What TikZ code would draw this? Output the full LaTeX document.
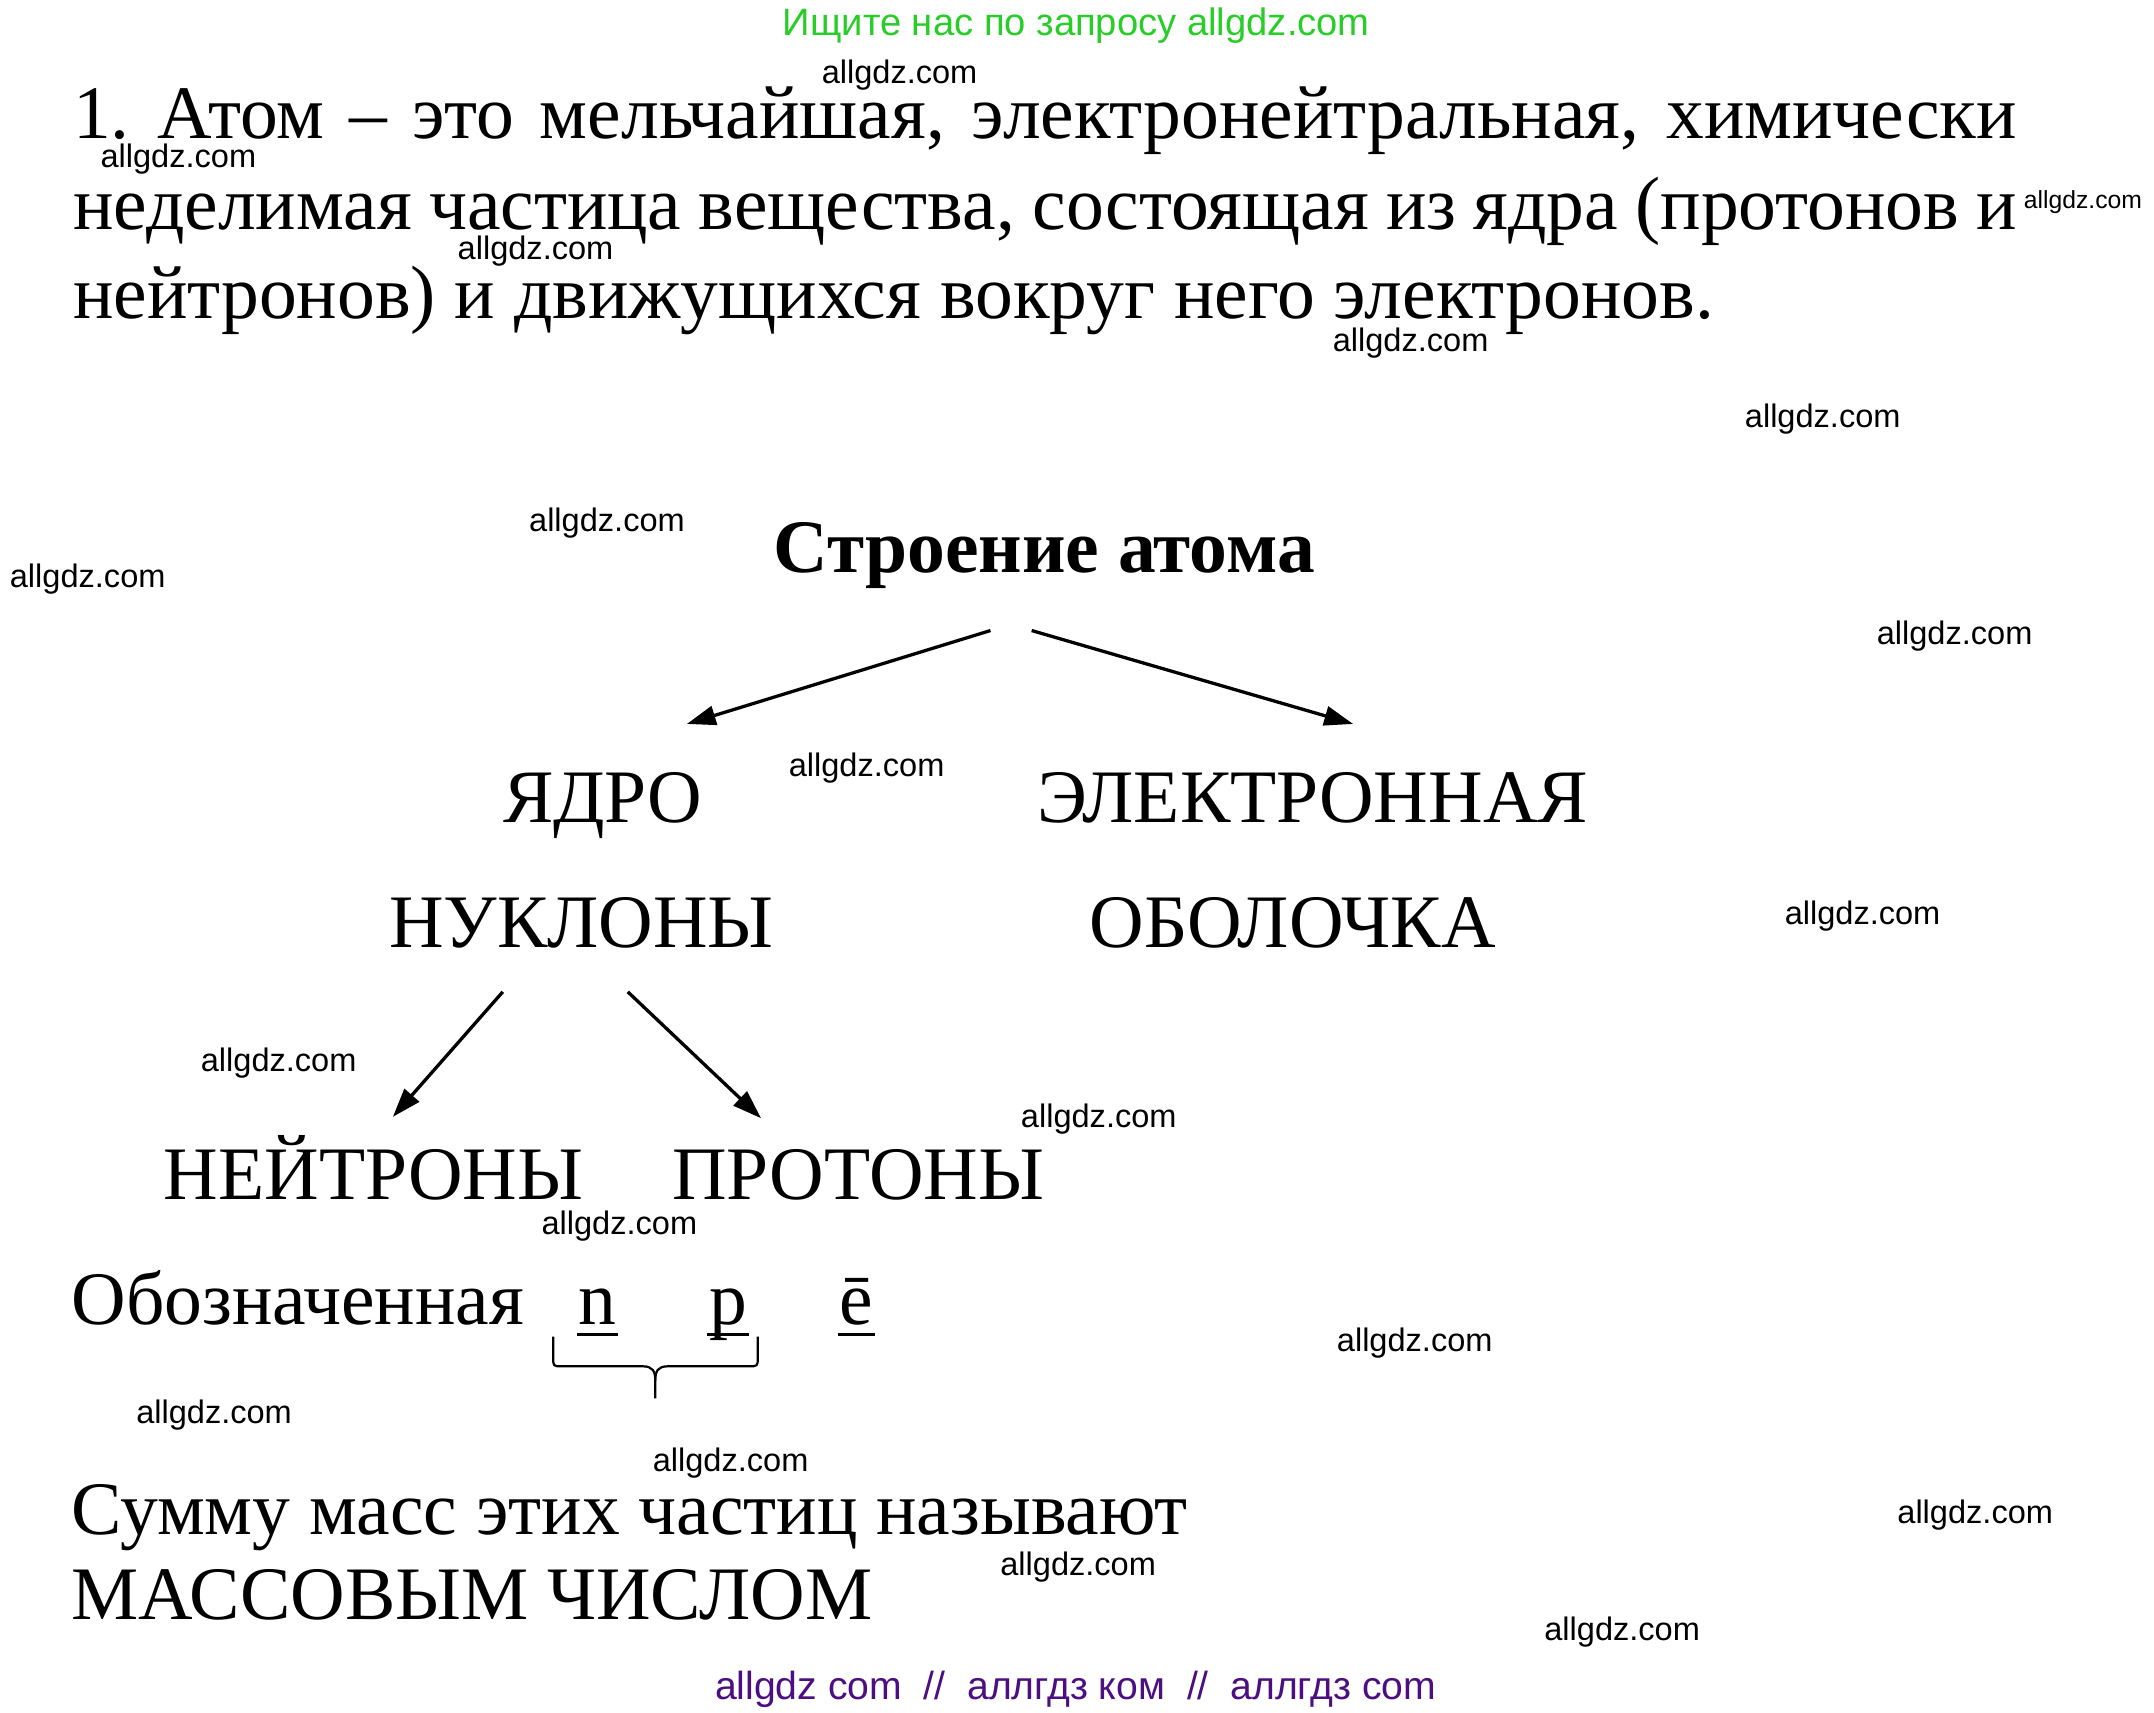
\documentclass[tikz,border=0pt]{standalone}
\usepackage{fontspec}
\setmainfont{Liberation Serif}
\newfontfamily\wmsans{Liberation Sans}
\usetikzlibrary{arrows.meta}
\definecolor{hdrgreen}{RGB}{40,205,40}
\definecolor{ftpurple}{RGB}{75,15,130}
\begin{document}
\begin{tikzpicture}[x=1pt,y=-1pt,
  wm/.style={font=\wmsans\fontsize{23.7}{23.7}\selectfont, anchor=base west, inner sep=0pt},
  wmsmall/.style={font=\wmsans\fontsize{18}{18}\selectfont, anchor=base west, inner sep=0pt},
  body/.style={font=\fontsize{55}{60}\selectfont, anchor=base west, inner sep=0pt},
  term/.style={font=\fontsize{55}{60}\selectfont, anchor=base west, inner sep=0pt},
  heading/.style={font=\bfseries\fontsize{55}{60}\selectfont, anchor=base west, inner sep=0pt},
  arr/.style={line width=2.4pt, -{Triangle[length=21pt,width=14pt]}},
  uline/.style={line width=2.2pt},
  bracepath/.style={line width=1.6pt, line join=round}]
\useasboundingbox[fill=white] (0,0) rectangle (1568,1246.3);

% header and footer
\node[font=\wmsans\fontsize{27.8}{27.8}\selectfont, text=hdrgreen, anchor=base, inner sep=0pt] (hdr) at (783.5,26) {Ищите нас по запросу allgdz.com};
\node[font=\wmsans\fontsize{28.5}{28.5}\selectfont, text=ftpurple, anchor=base, inner sep=0pt] (ftr) at (783,1237) {allgdz com \ // \ аллгдз ком \ // \ аллгдз com};

% definition
\node[body] (l1) at (53,101) {\makebox[1415pt][s]{1.\hspace{20pt}Атом – это мельчайшая, электронейтральная, химически}};
\node[body] (l2) at (53,167) {\makebox[1415pt][s]{неделимая частица вещества, состоящая из ядра (протонов и}};
\node[body] (l3) at (53,232) {нейтронов) и движущихся вокруг него электронов.};

% scheme
\node[heading] (title) at (563,417) {Строение атома};
\node[term] (yadro) at (366,599) {ЯДРО};
\node[term] (shell1) at (755,599) {ЭЛЕКТРОННАЯ};
\node[term] (nukl) at (283,690) {НУКЛОНЫ};
\node[term] (shell2) at (793,690) {ОБОЛОЧКА};
\node[term] (neitr) at (119,873) {НЕЙТРОНЫ};
\node[term] (prot) at (489,873) {ПРОТОНЫ};

\coordinate (a1s) at (721,459);
\coordinate (a1e) at (500,527);
\coordinate (a2s) at (751,459);
\coordinate (a2e) at (985,527);
\coordinate (a3s) at (366,722);
\coordinate (a3e) at (286,813);
\coordinate (a4s) at (457,722);
\coordinate (a4e) at (554,814);
\draw[arr] (a1s) -- (a1e);
\draw[arr] (a2s) -- (a2e);
\draw[arr] (a3s) -- (a3e);
\draw[arr] (a4s) -- (a4e);

% notation
\node[term] (oboz) at (52,964) {Обозначенная};
\node[term] (sn) at (421,964) {n};
\node[term] (sp) at (516,964) {p};
\node[term] (se) at (611,964) {ē};
\draw[uline] ([xshift=-1pt,yshift=-7.4pt]sn.base west) -- ([xshift=1pt,yshift=-7.4pt]sn.base east);
\draw[uline] ([xshift=-1pt,yshift=-7.4pt]sp.base west) -- ([xshift=1pt,yshift=-7.4pt]sp.base east);
\draw[uline] ([xshift=-1pt,yshift=-7.4pt]se.base west) -- ([xshift=1pt,yshift=-7.4pt]se.base east);

\coordinate (bl) at (402.7,973);
\coordinate (br) at (551.6,973);
\coordinate (bm) at (477,1018);
\draw[bracepath] (bl) -- (402.7,988) .. controls (402.7,994.6) .. (409,994.6) -- (468,994.6)
  .. controls (475,994.6) and (477,998) .. (477,1005) -- (bm);
\draw[bracepath] (br) -- (551.6,988) .. controls (551.6,994.6) .. (545,994.6) -- (486,994.6)
  .. controls (479,994.6) and (477,998) .. (477,1005);

% conclusion
\node[body] (s1) at (52,1117) {Сумму масс этих частиц называют};
\node[body] (s2) at (52,1179) {МАССОВЫМ ЧИСЛОМ};

% watermarks
\node[wm] (w1) at (598,61) {allgdz.com};
\node[wm] (w2) at (73,122) {allgdz.com};
\node[wmsmall] (w3) at (1473,152) {allgdz.com};
\node[wm] (w4) at (333,189) {allgdz.com};
\node[wm] (w5) at (970,256) {allgdz.com};
\node[wm] (w6) at (1270,311) {allgdz.com};
\node[wm] (w7) at (385,387) {allgdz.com};
\node[wm] (w8) at (7,428) {allgdz.com};
\node[wm] (w9) at (1366,469) {allgdz.com};
\node[wm] (w10) at (574,565) {allgdz.com};
\node[wm] (w11) at (1299,673) {allgdz.com};
\node[wm] (w12) at (146,780) {allgdz.com};
\node[wm] (w13) at (743,821) {allgdz.com};
\node[wm] (w14) at (394,899) {allgdz.com};
\node[wm] (w15) at (973,984) {allgdz.com};
\node[wm] (w16) at (99,1036) {allgdz.com};
\node[wm] (w17) at (475,1071) {allgdz.com};
\node[wm] (w18) at (1381,1109) {allgdz.com};
\node[wm] (w19) at (728,1147) {allgdz.com};
\node[wm] (w20) at (1124,1194) {allgdz.com};
\end{tikzpicture}
\end{document}
